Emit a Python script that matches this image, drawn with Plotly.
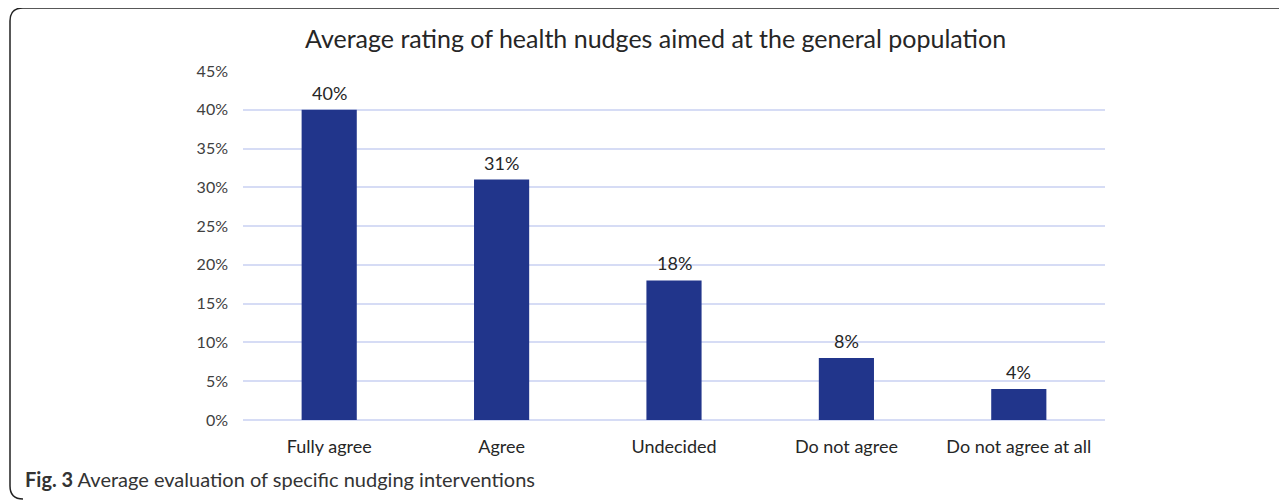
import plotly.graph_objects as go

categories = ["Fully agree", "Agree", "Undecided", "Do not agree", "Do not agree at all"]
values = [40, 31, 18, 8, 4]
tick_vals = [0, 5, 10, 15, 20, 25, 30, 35, 40, 45]
tick_text = [f"{v}%" for v in tick_vals]
labels = [f"{v}%" for v in values]

OFF = 8  # browser body margin
W, H = 1287 - OFF, 501 - OFF
# target pixel positions in the screenshot
L_s, R_s, T_s, B_s = 243, 1105, 71, 420
L, T = L_s - OFF, T_s - OFF
R = W - (R_s - OFF)
B = H - (B_s - OFF)
pw = W - L - R
ph = H - T - B

def px_x(x):
    return (x - OFF - L) / pw

def px_y(y):
    return (H - B - (y - OFF)) / ph

FONT = "Lato"

fig = go.Figure()
fig.add_trace(go.Bar(
    x=categories, y=values,
    marker=dict(color="#21358B", line=dict(width=0)),
    width=0.32,
))

annotations = [
    dict(x=c, y=v, text=t, xref="x", yref="y", showarrow=False, yanchor="middle",
         yshift=17, font=dict(size=18, color="#262626", family=FONT))
    for c, v, t in zip(categories, values, labels)
]
annotations += [
    dict(text="Average rating of health nudges aimed at the general population",
         xref="paper", yref="paper", x=px_x(655), y=px_y(38), xanchor="center", yanchor="middle",
         showarrow=False, font=dict(size=25, color="#262626", family=FONT)),
    dict(text="<b>Fig. 3</b> Average evaluation of specific nudging interventions",
         xref="paper", yref="paper", x=px_x(23), y=px_y(479), xanchor="left", yanchor="middle",
         showarrow=False, font=dict(size=20, color="#333333", family=FONT)),
]

fig.update_layout(
    width=W, height=H,
    margin=dict(l=L, r=R, t=T, b=B),
    paper_bgcolor="white", plot_bgcolor="white",
    showlegend=False,
    font=dict(family=FONT, color="#404040"),
    xaxis=dict(showgrid=False, showline=False, ticks="", tickfont=dict(size=18, color="#262626"),
               ticklabelstandoff=14),
    yaxis=dict(range=[0, 45], tickvals=tick_vals, ticktext=tick_text, showgrid=True,
               gridcolor="#D6DCF5", gridwidth=1.5, zeroline=True, zerolinecolor="#D6DCF5",
               zerolinewidth=1.5, showline=False, ticks="", tickfont=dict(size=16, color="#404040"),
               ticklabelstandoff=14),
    annotations=annotations,
    shapes=[
        dict(type="path", xref="paper", yref="paper", layer="below",
             path=(f"M {px_x(1300)},{px_y(8)} L {px_x(23)},{px_y(8)} "
                   f"Q {px_x(10)},{px_y(8)} {px_x(10)},{px_y(21)} "
                   f"L {px_x(10)},{px_y(486)} Q {px_x(10)},{px_y(499)} {px_x(23)},{px_y(499)}"),
             line=dict(color="#222222", width=1.5)),
    ],
)
fig.write_html("out.html")
